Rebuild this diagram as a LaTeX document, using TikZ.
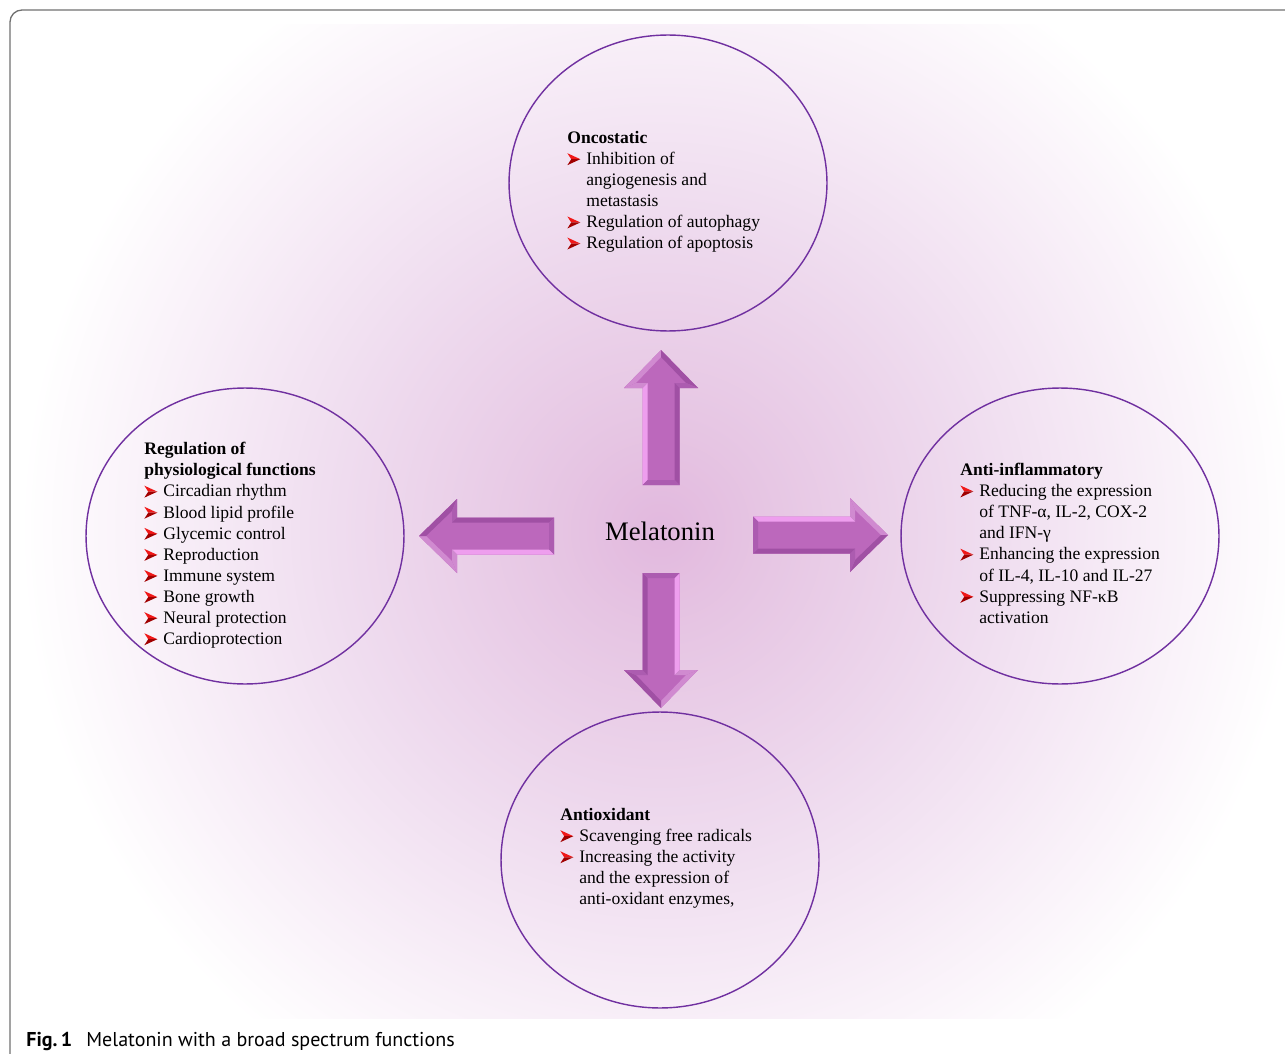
\documentclass[tikz,border=0pt]{standalone}
\usepackage{fontspec}
\setmainfont{Liberation Serif}
\newfontfamily\capfont{PT Sans}
\usetikzlibrary{shapes.geometric}

\definecolor{ringcol}{HTML}{7030A0}
\definecolor{framecol}{HTML}{707070}
\definecolor{arrmain}{HTML}{BC68BC}
\definecolor{arrlight}{HTML}{EE9EEE}
\definecolor{arrmid}{HTML}{D08AD0}
\definecolor{arrdark}{HTML}{A050A4}
\definecolor{arrback}{HTML}{AC5CB0}
\definecolor{bulhi}{HTML}{F01818}
\definecolor{bullo}{HTML}{A00000}

% soft violet glow behind the whole diagram
\pgfdeclareradialshading{bgglow}{\pgfpoint{0bp}{0bp}}{%
  rgb(0bp)=(0.886,0.722,0.871);
  rgb(4bp)=(0.902,0.773,0.890);
  rgb(12.5bp)=(0.937,0.863,0.937);
  rgb(20bp)=(0.976,0.945,0.976);
  rgb(25bp)=(1,1,1);
  rgb(50bp)=(1,1,1)}

% red three-d arrowhead bullet
\newcommand\bul{\makebox[10.8pt][l]{\tikz[baseline=0pt]{%
  \fill[bulhi] (0pt,6.4pt) -- (7.4pt,3pt) -- (2.2pt,3pt) -- cycle;
  \fill[bullo] (0pt,-0.4pt) -- (7.4pt,3pt) -- (2.2pt,3pt) -- cycle;}}}
\newcommand\ind{\hspace*{10.8pt}}

\tikzset{
  ring/.style={ellipse, draw=ringcol, line width=0.8pt, inner sep=0pt,
    minimum width=6.36cm, minimum height=5.92cm},
  % anchored on the baseline of the last line
  listtext/.style={anchor=base west, inner sep=0pt, align=left,
    font=\fontsize{10}{12}\selectfont},
  % bevelled block arrow pointing along local +x, origin at the tail centre
  bevelarrow/.pic={
    \fill[arrmain] (0,-18.5) -- (97,-18.5) -- (97,-37) -- (135,0) -- (97,37)
      -- (97,18.5) -- (0,18.5) -- cycle;
    \fill[arrlight] (0,-18.5) -- (97,-18.5) -- (102,-13.5) -- (5,-13.5) -- cycle;
    \fill[arrmid] (97,-18.5) -- (97,-37) -- (102,-25) -- (102,-13.5) -- cycle;
    \fill[arrmid] (97,-37) -- (135,0) -- (128,0) -- (102,-25) -- cycle;
    \fill[arrdark] (135,0) -- (97,37) -- (102,25) -- (128,0) -- cycle;
    \fill[arrback] (97,37) -- (97,18.5) -- (102,13.5) -- (102,25) -- cycle;
    \fill[arrdark] (97,18.5) -- (0,18.5) -- (5,13.5) -- (102,13.5) -- cycle;
    \fill[arrback] (0,18.5) -- (0,-18.5) -- (5,-13.5) -- (5,13.5) -- cycle;
  }
}

\begin{document}
\begin{tikzpicture}[x=0.02cm,y=-0.02cm]
\useasboundingbox (0,0) rectangle (1285,1054);

% background glow
\begin{scope}
  \clip (25,25) rectangle (1285,1018);
  \shade[shading=bgglow] (660,530) circle (640);
\end{scope}

% frame
\draw[framecol, line width=0.75pt, rounded corners=0.24cm]
  (10,1054) -- (10,10) -- (1285,10);

% rings
\node[ring] (onco) at (668,183) {};
\node[ring] (physio) at (245,536) {};
\node[ring] (antiinf) at (1060,536) {};
\node[ring] (antiox) at (660,860) {};

% centre
\node[inner sep=0pt, font=\fontsize{15.2}{18}\selectfont] (mel) at (660,531) {Melatonin};

% arrows
\pic (arrUp) at (661,485) [rotate=90] {bevelarrow};
\pic (arrRight) at (753,535) {bevelarrow};
\pic (arrLeft) at (554,536) [rotate=180] {bevelarrow};
\pic (arrDown) at (661,573) [rotate=-90] {bevelarrow};

% lists (line pitch 21.17)
\node[listtext] (oncoText) at (567,248.8) {%
  \textbf{Oncostatic}\\
  \bul Inhibition of\\
  \ind angiogenesis and\\
  \ind metastasis\\
  \bul Regulation of autophagy\\
  \bul Regulation of apoptosis};

\node[listtext] (physioText) at (144,644.5) {%
  \textbf{Regulation of}\\
  \textbf{physiological functions}\\
  \bul Circadian rhythm\\
  \bul Blood lipid profile\\
  \bul Glycemic control\\
  \bul Reproduction\\
  \bul Immune system\\
  \bul Bone growth\\
  \bul Neural protection\\
  \bul Cardioprotection};

\node[listtext] (antiinfText) at (960,623.2) {%
  \textbf{Anti-inflammatory}\\
  \bul Reducing the expression\\
  \ind of TNF-α, IL-2, COX-2\\
  \ind and IFN-γ\\
  \bul Enhancing the expression\\
  \ind of IL-4, IL-10 and IL-27\\
  \bul Suppressing NF-κB\\
  \ind activation};

\node[listtext] (antioxText) at (560,904.7) {%
  \textbf{Antioxidant}\\
  \bul Scavenging free radicals\\
  \bul Increasing the activity\\
  \ind and the expression of\\
  \ind anti-oxidant enzymes,};

% caption
\node[anchor=base west, inner sep=0pt, font=\capfont\fontsize{11.4}{14}\selectfont]
  (caption) at (26,1046) {\textbf{Fig.\,1}\hspace{5pt} Melatonin with a broad spectrum functions};
\end{tikzpicture}
\end{document}
